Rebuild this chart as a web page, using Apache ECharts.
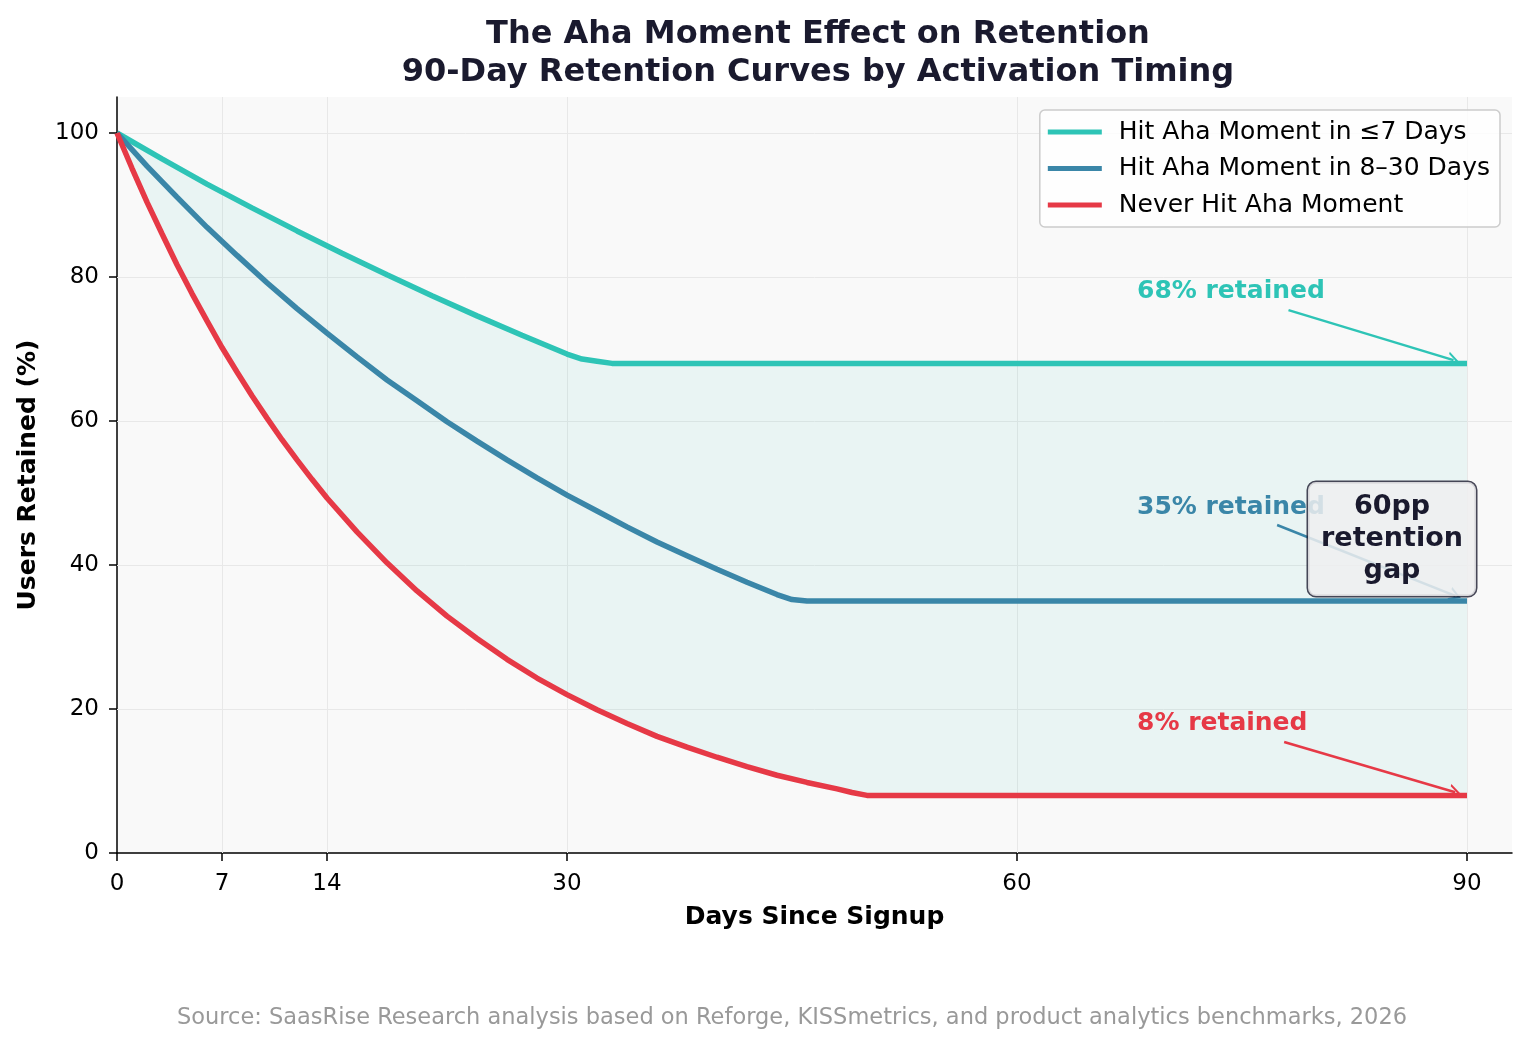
<!DOCTYPE html>
<html>
<head>
<meta charset="utf-8">
<script src="https://cdn.jsdelivr.net/npm/echarts@6/dist/echarts.min.js"></script>
<style>html,body{margin:0;padding:0;background:#fff}#c{width:1530px;height:1049px}</style>
</head>
<body>
<div id="c"></div>
<script>
// ---- data ----
const seriesNames = ['Hit Aha Moment in \u22647 Days', 'Hit Aha Moment in 8\u201330 Days', 'Never Hit Aha Moment'];

const tealDays   = [0, 3, 6, 9, 12, 15, 18, 21, 24, 27, 30, 31, 32, 33, 90];
const tealValues = [100, 96.4, 92.9, 89.6, 86.4, 83.3, 80.3, 77.4, 74.6, 71.9, 69.3, 68.6, 68.3, 68, 68];

const blueDays   = [0, 2, 4, 6, 8, 10, 12, 14, 16, 18, 20, 22, 24, 26, 28, 30, 32, 34, 36, 38, 40, 42, 44, 45, 46, 90];
const blueValues = [100, 95.4, 91.1, 86.9, 83.0, 79.2, 75.6, 72.2, 68.9, 65.7, 62.8, 59.9, 57.2, 54.6, 52.1, 49.7, 47.5, 45.3, 43.2, 41.3, 39.4, 37.6, 35.9, 35.2, 35, 35];

const redDays   = [0, 1, 2, 3, 4, 5, 6, 7, 8, 9, 10, 11, 12, 13, 14, 16, 18, 20, 22, 24, 26, 28, 30, 32, 34, 36, 38, 40, 42, 44, 46, 48, 49, 50, 90];
const redValues = [100, 95.1, 90.4, 86.0, 81.7, 77.7, 73.9, 70.2, 66.8, 63.5, 60.4, 57.4, 54.6, 51.9, 49.3, 44.6, 40.3, 36.4, 32.9, 29.8, 26.9, 24.3, 22.0, 19.9, 18.0, 16.2, 14.7, 13.3, 12.0, 10.8, 9.8, 8.9, 8.4, 8, 8];

const xTicks = [0, 7, 14, 30, 60, 90];
const yTicks = [0, 20, 40, 60, 80, 100];
const xGrid = [7, 14, 30, 60, 90];
const yGrid = [20, 40, 60, 80, 100];

const endLabels = ['68% retained', '35% retained', '8% retained'];
const gapLabel = '60pp\nretention\ngap';

const titleText = 'The Aha Moment Effect on Retention\n90-Day Retention Curves by Activation Timing';
const sourceText = 'Source: SaasRise Research analysis based on Reforge, KISSmetrics, and product analytics benchmarks, 2026';

// ---- styling ----
const FONT = 'DejaVu Sans';
const colors = ['#2ec4b6', '#3a86a8', '#e63946'];
const chevron = 'path://M0,10 L6,0 L12,10 L10,10 L6,3.3 L2,10 Z';

function pairs(d, v) { return d.map((x, i) => [x, v[i]]); }

function endLabel(text, coord, color) {
  return {
    symbol: 'circle', symbolSize: 0, silent: true, z: 5,
    data: [{ coord: coord, value: 0 }],
    label: {
      show: true, position: 'right', distance: 0, formatter: text,
      color: color, fontFamily: FONT, fontWeight: 'bold', fontSize: 25
    }
  };
}
function arrow(from, to, color) {
  return {
    silent: true, z: 5,
    symbol: ['none', chevron], symbolSize: [14, 12],
    lineStyle: { color: color, width: 2.5, type: 'solid' },
    label: { show: false },
    emphasis: { disabled: true },
    data: [[{ coord: from }, { coord: to }]]
  };
}

const chart = echarts.init(document.getElementById('c'), null, { renderer: 'canvas' });

const option = {
  animation: false,
  backgroundColor: '#ffffff',
  title: {
    text: titleText,
    left: 813, top: 11, textAlign: 'center',
    textStyle: { fontFamily: FONT, fontSize: 32, fontWeight: 'bold', color: '#1a1a2e', lineHeight: 38 }
  },
  legend: {
    data: seriesNames,
    orient: 'vertical',
    right: 30, top: 110,
    padding: [7, 10, 7, 8],
    itemGap: 6.5,
    itemWidth: 54, itemHeight: 5,
    icon: 'rect',
    backgroundColor: 'rgba(255,255,255,0.8)',
    borderColor: '#cccccc', borderWidth: 1.5, borderRadius: 5,
    textStyle: { fontFamily: FONT, fontSize: 25, color: '#000', lineHeight: 30, padding: [0, 0, 0, 12] }
  },
  grid: {
    left: 117, right: 18, top: 97, bottom: 196,
    outerBoundsMode: 'none', containLabel: false,
    show: true, backgroundColor: '#f9f9f9', borderWidth: 0
  },
  xAxis: {
    type: 'value', min: 0, max: 93,
    name: 'Days Since Signup', nameLocation: 'middle', nameGap: 52,
    nameTextStyle: { fontFamily: FONT, fontSize: 25, fontWeight: 'bold', color: '#000' },
    axisLine: { show: true, onZero: false, lineStyle: { color: '#000', width: 1.5 } },
    axisTick: { show: true, customValues: xTicks, length: 8, lineStyle: { color: '#000', width: 1.5 } },
    axisLabel: { customValues: xTicks, fontFamily: FONT, fontSize: 23, color: '#000', margin: 20 },
    splitLine: { show: false }
  },
  yAxis: {
    type: 'value', min: 0, max: 105,
    name: 'Users Retained (%)', nameLocation: 'middle', nameGap: 76,
    nameTextStyle: { fontFamily: FONT, fontSize: 25, fontWeight: 'bold', color: '#000' },
    axisLine: { show: true, onZero: false, lineStyle: { color: '#000', width: 1.5 } },
    axisTick: { show: true, customValues: yTicks, length: 8, lineStyle: { color: '#000', width: 1.5 } },
    axisLabel: { customValues: yTicks, fontFamily: FONT, fontSize: 23, color: '#000', margin: 18 },
    splitLine: { show: false }
  },
  graphic: [{
    type: 'text', x: 792, y: 1018, silent: true,
    style: { text: sourceText, fontFamily: FONT, fontSize: 22.5, fill: '#999999', align: 'center', verticalAlign: 'middle' }
  }],
  series: [
    {
      name: 'grid', type: 'line', data: [], silent: true,
      markLine: {
        silent: true, z: 1, symbol: ['none', 'none'],
        label: { show: false },
        lineStyle: { color: '#e8e8e8', width: 1, type: 'solid' },
        data: xGrid.map(v => ({ xAxis: v })).concat(yGrid.map(v => ({ yAxis: v })))
      }
    },
    {
      name: 'fill', type: 'custom', coordinateSystem: 'cartesian2d', z: 2, silent: true,
      data: [[0, 0]],
      renderItem: function (params, api) {
        const pts = [];
        for (let i = 0; i < tealDays.length; i++) pts.push(api.coord([tealDays[i], tealValues[i]]));
        for (let i = redDays.length - 1; i >= 0; i--) pts.push(api.coord([redDays[i], redValues[i]]));
        return { type: 'polygon', shape: { points: pts }, style: { fill: 'rgba(46,196,182,0.08)' }, silent: true };
      }
    },
    {
      name: seriesNames[0], type: 'line', z: 3, data: pairs(tealDays, tealValues),
      showSymbol: false, symbol: 'none', smooth: false,
      lineStyle: { color: colors[0], width: 5.5 }, itemStyle: { color: colors[0] },
      markPoint: endLabel(endLabels[0], [68, 78], colors[0]),
      markLine: arrow([78.1, 75.4], [89.1, 68.45], colors[0])
    },
    {
      name: seriesNames[1], type: 'line', z: 3, data: pairs(blueDays, blueValues),
      showSymbol: false, symbol: 'none', smooth: false,
      lineStyle: { color: colors[1], width: 5.5 }, itemStyle: { color: colors[1] },
      markPoint: endLabel(endLabels[1], [68, 48], colors[1]),
      markLine: arrow([77.34, 45.56], [89.22, 35.72], colors[1])
    },
    {
      name: seriesNames[2], type: 'line', z: 3, data: pairs(redDays, redValues),
      showSymbol: false, symbol: 'none', smooth: false,
      lineStyle: { color: colors[2], width: 5.5 }, itemStyle: { color: colors[2] },
      markPoint: endLabel(endLabels[2], [68, 18], colors[2]),
      markLine: arrow([77.81, 15.42], [89.21, 8.43], colors[2])
    },
    {
      name: 'gapbox', type: 'line', data: [], silent: true, z: 10,
      markPoint: {
        symbol: 'circle', symbolSize: 0, silent: true, z: 10,
        data: [{ coord: [85, 43.6], value: 0 }],
        label: {
          show: true, position: 'inside', formatter: gapLabel,
          fontFamily: FONT, fontWeight: 'bold', fontSize: 27, lineHeight: 32, color: '#1a1a2e',
          align: 'center', verticalAlign: 'middle',
          backgroundColor: 'rgba(238,239,240,0.85)',
          borderColor: 'rgba(26,26,46,0.8)', borderWidth: 1.5, borderRadius: 8,
          padding: [9, 13]
        }
      }
    }
  ]
};
chart.setOption(option);
</script>
</body>
</html>
